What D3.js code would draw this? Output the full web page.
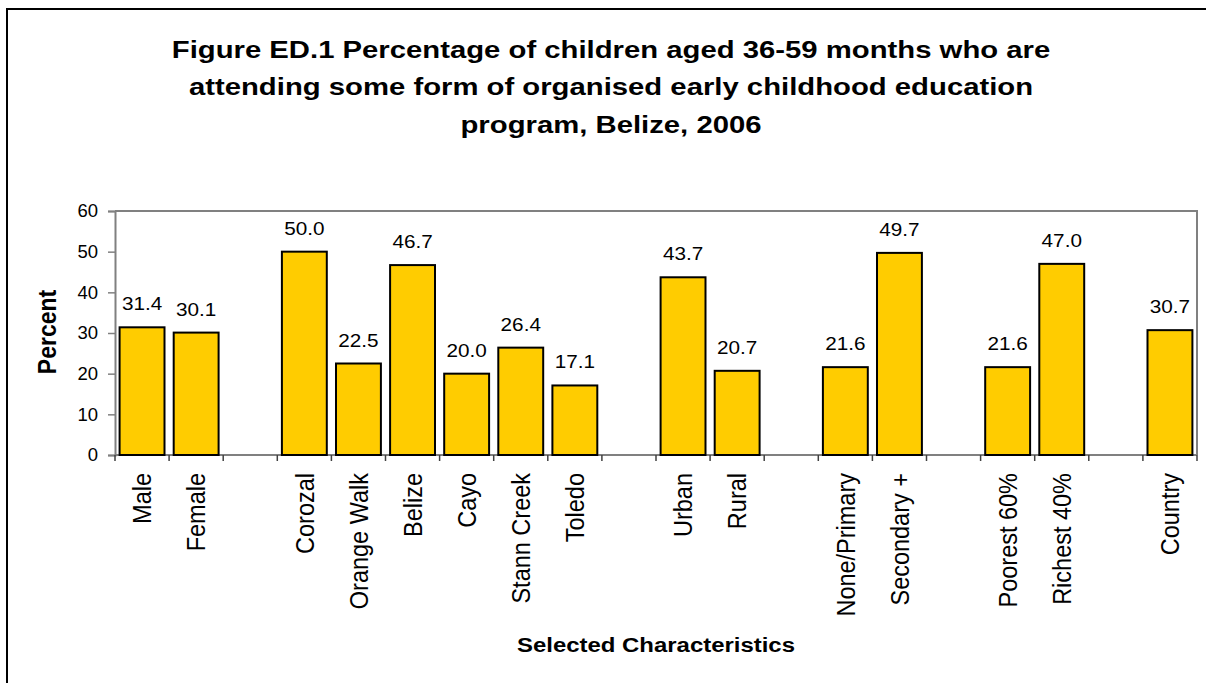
<!DOCTYPE html>
<html>
<head>
<meta charset="utf-8">
<script src="https://cdn.jsdelivr.net/npm/d3@7"></script>
<style>
  body { margin: 0; background: #fff; }
  svg { display: block; font-family: Arial, "Liberation Sans", sans-serif; }
</style>
</head>
<body>
<div id="chart"></div>
<script>
// Categories, with blank slots as spacers between groups
const categories = ['Male', 'Female', '', 'Corozal', 'Orange Walk', 'Belize', 'Cayo', 'Stann Creek', 'Toledo',
    ' ', 'Urban', 'Rural', '  ', 'None/Primary', 'Secondary +', '   ', 'Poorest 60%', 'Richest 40%', '    ', 'Country'];
const values = [31.4, 30.1, null, 50.0, 22.5, 46.7, 20.0, 26.4, 17.1,
    null, 43.7, 20.7, null, 21.6, 49.7, null, 21.6, 47.0, null, 30.7];
const yTicks = [0, 10, 20, 30, 40, 50, 60];
const titleLines = [
    'Figure ED.1 Percentage of children aged 36-59 months who are',
    'attending some form of organised early childhood education',
    'program, Belize, 2006'
];

const width = 1206;
const height = 683;
const margin = { top: 211, right: 9, bottom: 228, left: 115 };

const svg = d3.select('#chart')
    .append('svg')
    .attr('width', width)
    .attr('height', height);

// Outer chart frame (runs off the right and bottom edges)
svg.append('rect')
    .attr('x', 7)
    .attr('y', 9)
    .attr('width', 1300)
    .attr('height', 800)
    .attr('fill', 'none')
    .attr('stroke', '#000')
    .attr('stroke-width', 2);

// Title (the original text is a bit wider than plain Arial)
svg.append('g')
    .attr('transform', `translate(611,0) scale(1.22,1)`)
    .append('text')
    .attr('text-anchor', 'middle')
    .style('font-size', '24px')
    .style('font-weight', 'bold')
    .selectAll('tspan')
    .data(titleLines)
    .enter()
    .append('tspan')
    .attr('x', 0)
    .attr('y', (d, i) => 58 + i * 37.5)
    .text(d => d);

const x = d3.scaleBand()
    .domain(categories)
    .range([margin.left, width - margin.right])
    .paddingInner(0.17)
    .paddingOuter(0.085);

const y = d3.scaleLinear()
    .domain([0, 60])
    .range([height - margin.bottom, margin.top]);

// Plot area border (top and right)
svg.append('path')
    .attr('d', `M${margin.left},${margin.top}H${width - margin.right}V${height - margin.bottom}`)
    .attr('fill', 'none')
    .attr('stroke', '#808080')
    .attr('stroke-width', 2);

// Y axis
const yAxis = svg.append('g')
    .attr('transform', `translate(${margin.left},0)`)
    .call(d3.axisLeft(y).tickValues(yTicks).tickSize(7).tickPadding(10));
yAxis.select('.domain').attr('stroke', '#808080').attr('stroke-width', 2);
yAxis.selectAll('.tick line').attr('stroke', '#808080').attr('stroke-width', 1.5);
yAxis.selectAll('.tick text')
    .style('font-size', '18.5px')
    .style('font-family', 'Arial, "Liberation Sans", sans-serif')
    .attr('fill', '#000');

// X axis: ticks on band boundaries
const boundaries = d3.range(categories.length + 1)
    .map(i => margin.left + i * (width - margin.right - margin.left) / categories.length);

const xAxisG = svg.append('g');
xAxisG.append('line')
    .attr('x1', margin.left)
    .attr('x2', width - margin.right)
    .attr('y1', y(0))
    .attr('y2', y(0))
    .attr('stroke', '#808080')
    .attr('stroke-width', 2);
xAxisG.selectAll('.xtick')
    .data(boundaries)
    .enter()
    .append('line')
    .attr('x1', d => d)
    .attr('x2', d => d)
    .attr('y1', y(0))
    .attr('y2', y(0) + 6)
    .attr('stroke', '#404040')
    .attr('stroke-width', 1.5);

// X labels rotated
xAxisG.selectAll('.xlabel')
    .data(categories.filter(c => c.trim() !== ''))
    .enter()
    .append('text')
    .attr('transform', d => `translate(${x(d) + x.bandwidth() / 2},${y(0) + 18}) scale(1.1,1) rotate(-90)`)
    .attr('text-anchor', 'end')
    .attr('dy', '0.36em')
    .style('font-size', '23.5px')
    .text(d => d);

// Bars
const data = categories.map((c, i) => ({ label: c, value: values[i] })).filter(d => d.value !== null);

svg.selectAll('.bar')
    .data(data)
    .enter()
    .append('rect')
    .attr('class', 'bar')
    .attr('x', d => x(d.label))
    .attr('y', d => y(d.value))
    .attr('width', x.bandwidth())
    .attr('height', d => y(0) - y(d.value))
    .attr('fill', '#FFCC00')
    .attr('stroke', '#000')
    .attr('stroke-width', 2);

// Value labels
svg.selectAll('.value')
    .data(data)
    .enter()
    .append('text')
    .attr('transform', d => `translate(${x(d.label) + x.bandwidth() / 2},${y(d.value) - 17}) scale(1.12,1)`)
    .attr('text-anchor', 'middle')
    .style('font-size', '18.5px')
    .text(d => d.value.toFixed(1));

// Axis titles
svg.append('text')
    .attr('transform', `translate(47,332) scale(1.13,1) rotate(-90)`)
    .attr('text-anchor', 'middle')
    .attr('dy', '0.36em')
    .style('font-size', '23px')
    .style('font-weight', 'bold')
    .text('Percent');

svg.append('text')
    .attr('transform', `translate(656,652) scale(1.14,1)`)
    .attr('text-anchor', 'middle')
    .style('font-size', '21px')
    .style('font-weight', 'bold')
    .text('Selected Characteristics');
</script>
</body>
</html>
